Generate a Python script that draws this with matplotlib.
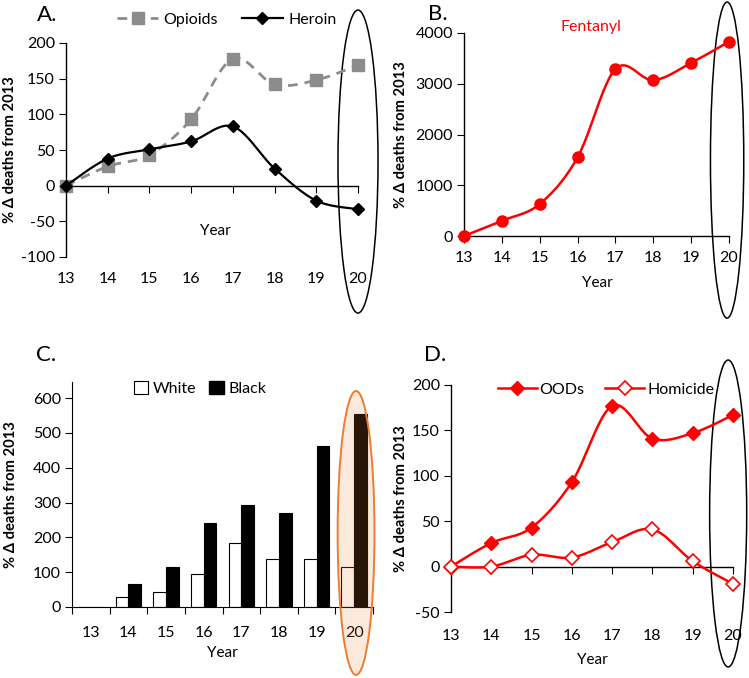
import numpy as np
import matplotlib
matplotlib.use("Agg")
import matplotlib.pyplot as plt
from matplotlib.patches import Ellipse, Patch
from matplotlib.lines import Line2D
import matplotlib.transforms as mtransforms

plt.rcParams['font.family'] = ['Lato', 'DejaVu Sans']
plt.rcParams['axes.unicode_minus'] = False

years = [13, 14, 15, 16, 17, 18, 19, 20]
year_labels = ["13", "14", "15", "16", "17", "18", "19", "20"]

opioids = [0, 27, 43, 93, 178, 142, 148, 169]
heroin = [0, 38, 51, 62, 83, 24, -21, -33]

fentanyl = [0, 300, 630, 1550, 3290, 3070, 3410, 3830]

white = [0, 30, 43, 95, 183, 137, 137, 115]
black = [0, 66, 115, 241, 293, 270, 463, 555]

oods = [0, 26, 43, 93, 177, 141, 147, 167]
homicide = [0, 0, 13, 10, 27, 41, 6, -19]

RED = '#FF0000'
GRAY = '#8C8C8C'
ORANGE = '#ED7D31'
TICK_FS = 11.5
LAB_FS = 11
YLAB_FS = 10.6

W, H = 749, 678
fig = plt.figure(figsize=(W / 100, H / 100), dpi=100)


def add_ax(left, top, right, bottom):
    return fig.add_axes([left / W, 1 - bottom / H, (right - left) / W, (bottom - top) / H])


def smooth(x, y, n=25):
    pts = np.column_stack([x, y]).astype(float)
    out = []
    for i in range(len(pts) - 1):
        p0 = pts[i - 1] if i > 0 else pts[i]
        p1 = pts[i]
        p2 = pts[i + 1]
        p3 = pts[i + 2] if i + 2 < len(pts) else pts[i + 1]
        c1 = p1 + (p2 - p0) / 6
        c2 = p2 - (p3 - p1) / 6
        t = np.linspace(0, 1, n)[:, None]
        seg = (1 - t) ** 3 * p1 + 3 * (1 - t) ** 2 * t * c1 + 3 * (1 - t) * t ** 2 * c2 + t ** 3 * p2
        out.append(seg if i == 0 else seg[1:])
    s = np.vstack(out)
    return s[:, 0], s[:, 1]


def style(ax, ylab_x, zero_axis=False, pad=5):
    for s in ['top', 'right']:
        ax.spines[s].set_visible(False)
    ax.spines['left'].set_linewidth(1.0)
    ax.spines['bottom'].set_linewidth(1.0)
    ax.tick_params(axis='y', direction='out', length=5, labelsize=TICK_FS, pad=3)
    ax.tick_params(axis='x', direction='out', length=5, labelsize=TICK_FS, pad=pad)
    ax.set_xticks(years, year_labels)
    if zero_axis:
        ax.spines['bottom'].set_position(('data', 0))
        ax.tick_params(axis='x', labelbottom=False)
        sec = ax.secondary_xaxis('bottom')
        sec.spines['bottom'].set_visible(False)
        sec.set_xticks(years, year_labels)
        sec.tick_params(axis='x', length=0, labelsize=TICK_FS, pad=pad)
    ax.set_ylabel('% Δ deaths from 2013', fontsize=YLAB_FS, fontweight='bold')
    ax.yaxis.set_label_coords(ylab_x, 0.5)


def ellipse(ax, xc, width, yc, height, **kw):
    tr = mtransforms.blended_transform_factory(ax.transData, ax.transAxes)
    e = Ellipse((xc, yc), width, height, transform=tr, clip_on=False, **kw)
    ax.add_patch(e)


# ---------- Panel A ----------
axA = add_ax(66, 43, 358, 257)
xs, ys = smooth(years, opioids)
axA.plot(xs, ys, color=GRAY, lw=2, ls=(0, (3.5, 2.5)), zorder=2)
axA.plot(years, opioids, ls='none', marker='s', ms=8.5, color=GRAY, zorder=3, clip_on=False)
xs, ys = smooth(years, heroin)
axA.plot(xs, ys, color='black', lw=1.6, zorder=4)
axA.plot(years, heroin, ls='none', marker='D', ms=6.5, color='black', zorder=5, clip_on=False)
axA.set_xlim(13, 20)
axA.set_ylim(-100, 200)
axA.set_yticks(range(-100, 201, 50))
style(axA, -0.168, zero_axis=True, pad=11)
axA.text(16.57, -64, 'Year', fontsize=LAB_FS, ha='center', va='center')
hA = [Line2D([], [], color=GRAY, lw=2, ls=(0, (3.5, 2.5)), marker='s', ms=8.5),
      Line2D([], [], color='black', lw=1.6, marker='D', ms=6.5)]
axA.legend(hA, ['Opioids', 'Heroin'], ncol=2, frameon=False, loc='center',
           bbox_to_anchor=(0.55, 1.11), fontsize=TICK_FS, handlelength=2.6,
           columnspacing=1.5, handletextpad=0.3)
fig.text(37 / W, 1 - 15 / H, 'A.', fontsize=16, va='center', ha='left')
ellipse(axA, 20, 0.96, 0.446, 1.416, fill=False, ec='black', lw=1.1)

# ---------- Panel B ----------
axB = add_ax(464, 33, 729, 236)
xs, ys = smooth(years, fentanyl)
axB.plot(xs, ys, color=RED, lw=1.8, zorder=3)
axB.plot(years, fentanyl, ls='none', marker='o', ms=8, color=RED, zorder=4, clip_on=False)
axB.set_xlim(13, 20)
axB.set_ylim(0, 4000)
axB.set_yticks(range(0, 4001, 1000))
style(axB, -0.211, pad=6)
axB.text(0.503, -0.23, 'Year', transform=axB.transAxes, fontsize=LAB_FS,
         ha='center', va='center')
axB.text(0.48, 1.03, 'Fentanyl', transform=axB.transAxes, color=RED,
         fontsize=TICK_FS, ha='center', va='center')
fig.text(428 / W, 1 - 14 / H, 'B.', fontsize=16, va='center', ha='left')
ellipse(axB, 19.95, 0.88, 0.374, 1.557, fill=False, ec='black', lw=1.1)

# ---------- Panel C ----------
axC = add_ax(72, 382, 373, 607)
pos = np.arange(len(years))
bw = 0.34
axC.bar(pos - bw / 2, white, bw, color='white', edgecolor='black', lw=0.8, zorder=2)
axC.bar(pos + bw / 2, black, bw, color='black', edgecolor='black', lw=0.8, zorder=2)
axC.set_xlim(-0.5, len(years) - 0.5)
axC.set_ylim(0, 646)
axC.set_yticks(range(0, 601, 100))
for s in ['top', 'right']:
    axC.spines[s].set_visible(False)
axC.tick_params(axis='y', direction='out', length=5, labelsize=TICK_FS, pad=3)
axC.set_xticks(np.arange(-0.5, len(years), 1.0))
axC.set_xticklabels([])
axC.tick_params(axis='x', direction='out', length=5)
axC.set_xticks(pos, year_labels, minor=True)
axC.tick_params(axis='x', which='minor', length=0, labelsize=TICK_FS, pad=14)
axC.set_ylabel('% Δ deaths from 2013', fontsize=YLAB_FS, fontweight='bold')
axC.yaxis.set_label_coords(-0.179, 0.5)
axC.text(0.5, -0.205, 'Year', transform=axC.transAxes, fontsize=LAB_FS,
         ha='center', va='center')
hC = [Patch(facecolor='white', edgecolor='black', lw=0.8),
      Patch(facecolor='black', edgecolor='black')]
axC.legend(hC, ['White', 'Black'], ncol=2, frameon=False, loc='center',
           bbox_to_anchor=(0.425, 0.973), fontsize=TICK_FS, handlelength=0.9,
           handleheight=0.9, columnspacing=0.8, handletextpad=0.3)
fig.text(36 / W, 1 - 355 / H, 'C.', fontsize=16, va='center', ha='left')
ellipse(axC, len(years) - 1 + 0.05, 0.98, 0.329, 1.262, facecolor=ORANGE, alpha=0.17,
        edgecolor='none', zorder=5)
ellipse(axC, len(years) - 1 + 0.05, 0.98, 0.329, 1.262, fill=False, ec=ORANGE, lw=1.4,
        zorder=6)

# ---------- Panel D ----------
axD = add_ax(451, 385, 733, 612)
xs, ys = smooth(years, oods)
axD.plot(xs, ys, color=RED, lw=1.8, zorder=3)
axD.plot(years, oods, ls='none', marker='D', ms=7, color=RED, zorder=4, clip_on=False)
xs, ys = smooth(years, homicide)
axD.plot(xs, ys, color=RED, lw=1.8, zorder=3)
axD.plot(years, homicide, ls='none', marker='D', ms=7, mfc='white', mec=RED,
         mew=1.2, zorder=4, clip_on=False)
axD.set_xlim(13, 20)
axD.set_ylim(-50, 200)
axD.set_yticks(range(-50, 201, 50))
style(axD, -0.152, zero_axis=True, pad=12)
axD.text(0.503, -0.211, 'Year', transform=axD.transAxes, fontsize=LAB_FS,
         ha='center', va='center')
hD = [Line2D([], [], color=RED, lw=1.8, marker='D', ms=7),
      Line2D([], [], color=RED, lw=1.8, marker='D', ms=7, mfc='white', mew=1.2)]
axD.legend(hD, ['OODs', 'Homicide'], ncol=2, frameon=False, loc='center',
           bbox_to_anchor=(0.55, 0.98), fontsize=TICK_FS, handlelength=2.4,
           columnspacing=1.3, handletextpad=0.2)
fig.text(424 / W, 1 - 355 / H, 'D.', fontsize=16, va='center', ha='left')
ellipse(axD, 19.88, 0.92, 0.434, 1.352, fill=False, ec='black', lw=1.1)

fig.savefig('out.png', dpi=100)
